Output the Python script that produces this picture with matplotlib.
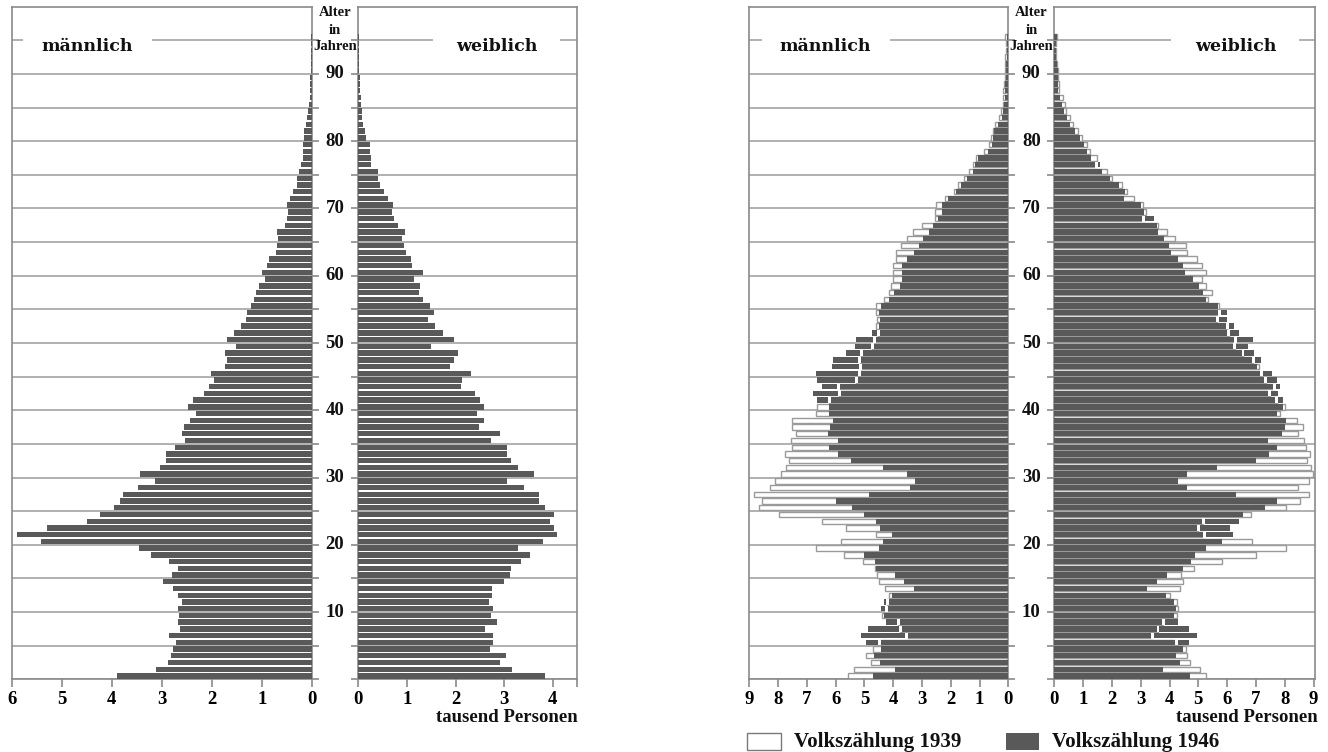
import numpy as np
import matplotlib
matplotlib.use("Agg")
import matplotlib.pyplot as plt
from matplotlib.patches import Rectangle
from matplotlib import transforms

plt.rcParams['font.family'] = ['Liberation Serif', 'DejaVu Serif']
plt.rcParams['font.weight'] = 'bold'

# ---- data (tausend Personen), ages 0..95 ----
ages = np.arange(0, 96)

# left pyramid (single census)
male_a = [3.89, 3.11, 2.87, 2.81, 2.77, 2.71, 2.85, 2.63, 2.67, 2.65,
          2.67, 2.59, 2.67, 2.77, 2.97, 2.79, 2.67, 2.85, 3.21, 3.45,
          5.41, 5.89, 5.29, 4.49, 4.23, 3.95, 3.83, 3.77, 3.47, 3.13,
          3.43, 3.03, 2.91, 2.91, 2.73, 2.53, 2.59, 2.55, 2.43, 2.31,
          2.47, 2.37, 2.15, 2.05, 1.95, 2.01, 1.73, 1.69, 1.73, 1.51,
          1.69, 1.55, 1.41, 1.31, 1.29, 1.21, 1.15, 1.11, 1.05, 0.93,
          0.99, 0.89, 0.85, 0.71, 0.69, 0.67, 0.69, 0.53, 0.49, 0.47,
          0.49, 0.43, 0.37, 0.29, 0.29, 0.25, 0.21, 0.17, 0.17, 0.17,
          0.15, 0.15, 0.11, 0.09, 0.07, 0.05, 0.04, 0.04, 0.03, 0.03,
          0.02, 0.02, 0.02, 0.01, 0.01, 0.01]
female_a = [3.84, 3.17, 2.92, 3.04, 2.70, 2.78, 2.78, 2.61, 2.86, 2.74,
            2.78, 2.68, 2.76, 2.76, 3.00, 3.13, 3.15, 3.35, 3.54, 3.29,
            3.80, 4.09, 4.03, 3.95, 4.03, 3.84, 3.72, 3.72, 3.41, 3.06,
            3.62, 3.29, 3.15, 3.06, 3.06, 2.74, 2.92, 2.49, 2.59, 2.45,
            2.59, 2.51, 2.41, 2.12, 2.14, 2.31, 1.88, 1.96, 2.06, 1.49,
            1.96, 1.75, 1.57, 1.43, 1.55, 1.47, 1.34, 1.24, 1.26, 1.14,
            1.34, 1.10, 1.08, 0.98, 0.94, 0.89, 0.96, 0.81, 0.73, 0.69,
            0.71, 0.61, 0.53, 0.44, 0.40, 0.40, 0.26, 0.26, 0.24, 0.24,
            0.16, 0.14, 0.10, 0.07, 0.07, 0.05, 0.05, 0.03, 0.03, 0.03,
            0.02, 0.02, 0.01, 0.01, 0.01, 0.01]

# right pyramid: Volkszählung 1939 and 1946
male_1939 = [5.58, 5.35, 4.76, 4.93, 4.69, 4.49, 3.53, 3.76, 3.82, 4.38,
             4.23, 4.20, 4.14, 4.27, 4.48, 4.55, 4.62, 5.06, 5.70, 6.68,
             5.81, 4.59, 5.65, 6.46, 7.97, 8.65, 8.55, 8.83, 8.27, 8.10,
             7.89, 7.71, 7.61, 7.75, 7.51, 7.54, 7.36, 7.51, 7.51, 6.67,
             6.64, 6.22, 5.87, 5.91, 5.28, 5.18, 5.14, 5.17, 5.11, 4.73,
             4.65, 4.52, 4.59, 4.55, 4.58, 4.58, 4.31, 4.16, 4.07, 4.02,
             4.02, 3.99, 3.89, 3.89, 3.74, 3.51, 3.30, 3.00, 2.54, 2.54,
             2.50, 2.19, 1.88, 1.74, 1.53, 1.37, 1.22, 1.12, 0.83, 0.66,
             0.61, 0.54, 0.45, 0.31, 0.25, 0.20, 0.18, 0.17, 0.15, 0.13,
             0.12, 0.10, 0.10, 0.08, 0.07, 0.10]
male_1946 = [4.71, 3.92, 4.46, 4.67, 4.42, 4.95, 5.12, 4.88, 4.25, 4.31,
             4.42, 4.32, 4.04, 3.29, 3.63, 3.95, 4.58, 4.62, 5.02, 4.48,
             4.37, 4.05, 4.47, 4.61, 5.03, 5.44, 6.00, 4.85, 3.41, 3.24,
             3.53, 4.37, 5.48, 5.93, 6.24, 5.93, 6.28, 6.21, 6.10, 6.24,
             6.24, 6.64, 6.79, 6.46, 6.64, 6.68, 6.13, 6.09, 5.64, 5.33,
             5.30, 4.74, 4.51, 4.46, 4.48, 4.44, 4.14, 3.96, 3.77, 3.68,
             3.68, 3.68, 3.53, 3.28, 3.09, 2.95, 2.76, 2.61, 2.46, 2.32,
             2.32, 2.11, 1.80, 1.65, 1.45, 1.24, 1.15, 1.04, 0.70, 0.58,
             0.52, 0.48, 0.37, 0.23, 0.17, 0.15, 0.13, 0.12, 0.10, 0.09,
             0.08, 0.07, 0.06, 0.05, 0.04, 0.05]
female_1939 = [5.27, 5.06, 4.71, 4.61, 4.58, 4.25, 3.42, 3.60, 3.78, 4.26,
               4.30, 4.26, 4.02, 4.37, 4.47, 4.40, 4.85, 5.82, 7.01, 8.04,
               6.86, 5.20, 5.00, 5.17, 6.82, 8.04, 8.53, 8.84, 8.46, 8.84,
               8.98, 8.91, 8.77, 8.87, 8.73, 8.67, 8.45, 8.63, 8.42, 7.82,
               8.01, 7.72, 7.48, 7.65, 7.34, 7.19, 7.11, 6.90, 6.55, 6.27,
               6.28, 6.05, 6.00, 5.66, 5.73, 5.73, 5.35, 5.49, 5.27, 5.13,
               5.25, 5.13, 4.95, 4.62, 4.58, 4.18, 3.90, 3.61, 3.10, 3.17,
               3.08, 2.76, 2.54, 2.34, 2.00, 1.83, 1.45, 1.47, 1.25, 1.13,
               0.97, 0.81, 0.66, 0.53, 0.42, 0.37, 0.31, 0.18, 0.16, 0.14,
               0.13, 0.09, 0.07, 0.06, 0.05, 0.11]
female_1946 = [4.71, 3.78, 4.37, 4.23, 4.47, 4.66, 4.97, 4.69, 4.31, 4.16,
               4.23, 4.16, 3.88, 3.22, 3.57, 3.92, 4.47, 4.75, 4.89, 5.27,
               5.81, 6.22, 6.11, 6.42, 6.54, 7.33, 7.73, 6.32, 4.59, 4.30,
               4.62, 5.66, 7.01, 7.45, 7.73, 7.43, 7.91, 8.02, 8.06, 7.73,
               7.93, 7.95, 7.78, 7.82, 7.74, 7.57, 7.04, 7.19, 6.92, 6.73,
               6.90, 6.40, 6.23, 6.01, 5.98, 5.69, 5.26, 5.17, 5.04, 4.82,
               4.53, 4.47, 4.30, 4.05, 3.99, 3.82, 3.61, 3.55, 3.46, 3.11,
               3.01, 2.42, 2.46, 2.25, 1.95, 1.66, 1.58, 1.28, 1.13, 1.03,
               0.89, 0.71, 0.55, 0.45, 0.32, 0.25, 0.20, 0.14, 0.14, 0.13,
               0.12, 0.08, 0.06, 0.05, 0.05, 0.10]

age_labels = [10, 20, 30, 40, 50, 60, 70, 80, 90]

DARK = '#595959'
GRID = '#a3a3a3'
SPINE = '#8a8a8a'
W, H = 1328, 752
TOP, BOT = 6.7, 679.3
BAR_H = 0.8

fig = plt.figure(figsize=(W / 100, H / 100), dpi=100)


def make_axes(x0, x1, xlim, xticks, xticklabels, side):
    ax = fig.add_axes([x0 / W, 1 - BOT / H, (x1 - x0) / W, (BOT - TOP) / H])
    ax.set_axisbelow(True)
    ax.set_xticks(xticks)
    ax.set_xticklabels(xticklabels)
    ax.set_xticks(np.arange(0, int(max(xlim)) + 1), minor=True)
    ax.set_yticks(np.arange(0, 100, 5))
    ax.set_yticklabels([])
    ax.set_xlim(*xlim)
    ax.set_ylim(0, 100)
    ax.grid(True, which='minor', axis='x', color=GRID, lw=1.2)
    ax.grid(True, which='major', axis='y', color=GRID, lw=1.2)
    ax.tick_params(axis='x', which='major', length=6, width=1.2, color=SPINE,
                   labelsize=13.5, pad=2.5)
    ax.tick_params(axis='x', which='minor', length=0)
    ax.tick_params(axis='y', length=5, width=1.2, color=SPINE,
                   left=(side == 'f'), right=(side == 'm'))
    for s in ax.spines.values():
        s.set_color(SPINE)
        s.set_linewidth(1.2)
    return ax


def label_box(ax, text, bx0, bx1, tx):
    ax.add_patch(Rectangle((bx0, 0.9108), bx1 - bx0, 0.062, transform=ax.transAxes,
                           facecolor='white', edgecolor='none', zorder=1))
    ax.text(tx, 0.941, text, transform=ax.transAxes, ha='center', va='center',
            fontsize=12.5, family='DejaVu Serif', fontweight='bold',
            color='#111111', zorder=6)


def center_labels(gap_x, ax_ref):
    tr = transforms.blended_transform_factory(fig.transFigure, ax_ref.transData)
    for a in age_labels:
        fig.text(gap_x / W, a, str(a), transform=tr, ha='center', va='center',
                 fontsize=13.5, color='#111111')
    for txt, y in zip(['Alter', 'in', 'Jahren'], [12, 30, 47]):
        fig.text(gap_x / W, 1 - y / H, txt, ha='center', va='center',
                 fontsize=10.5, color='#111111')


# ---- left pyramid ----
ax_lm = make_axes(11.7, 311.7, (6, 0), range(0, 7), [str(i) for i in range(7)], 'm')
ax_lf = make_axes(358.3, 577, (0, 4.5), [0, 1, 2, 3, 4, 4.5],
                  ['0', '1', '2', '3', '4', ''], 'f')
ax_lm.barh(ages + 0.5, male_a, height=BAR_H, color=DARK, zorder=3)
ax_lf.barh(ages + 0.5, female_a, height=BAR_H, color=DARK, zorder=3)
label_box(ax_lm, 'männlich', 0.0377, 0.468, 0.2517)
label_box(ax_lf, 'weiblich', 0.3416, 0.9223, 0.634)
center_labels(335, ax_lm)
fig.text(578 / W, 1 - 718 / H, 'tausend Personen', ha='right', va='center',
         fontsize=13.5, color='#111111')

# ---- right pyramid ----
ax_rm = make_axes(749.3, 1008.3, (9, 0), range(0, 10), [str(i) for i in range(10)], 'm')
ax_rf = make_axes(1054.3, 1315, (0, 9.05), range(0, 10), [str(i) for i in range(10)], 'f')
for ax, v39, v46 in [(ax_rm, male_1939, male_1946), (ax_rf, female_1939, female_1946)]:
    v39 = np.array(v39)
    v46 = np.array(v46)
    ax.barh(ages + 0.5, v39, height=BAR_H, facecolor='white', edgecolor='#9a9a9a',
            lw=1.0, zorder=2)
    ax.barh(ages + 0.5, v46, height=BAR_H, color=DARK, zorder=3)
    # 1939 end mark where the 1946 bar is longer
    m = v46 > v39 + 0.05
    ax.barh(ages[m] + 0.5, 0.1, left=v39[m] - 0.05, height=BAR_H + 0.1,
            color='white', zorder=4)
label_box(ax_rm, 'männlich', 0.0479, 0.5432, 0.292)
label_box(ax_rf, 'weiblich', 0.4465, 0.9386, 0.695)
center_labels(1031.3, ax_rm)
fig.text(1318 / W, 1 - 718 / H, 'tausend Personen', ha='right', va='center',
         fontsize=13.5, color='#111111')

# ---- legend ----
fig.add_artist(Rectangle((747 / W, 1 - 750 / H), 34 / W, 17 / H, transform=fig.transFigure,
                         facecolor='white', edgecolor='#7a7a7a', lw=1.0))
fig.text(794 / W, 1 - 741.5 / H, 'Volkszählung 1939', ha='left', va='center',
         fontsize=15, color='#111111')
fig.add_artist(Rectangle((1006 / W, 1 - 750 / H), 33 / W, 17 / H, transform=fig.transFigure,
                         facecolor=DARK, edgecolor='none'))
fig.text(1052 / W, 1 - 741.5 / H, 'Volkszählung 1946', ha='left', va='center',
         fontsize=15, color='#111111')

fig.savefig('out.png', dpi=100)
